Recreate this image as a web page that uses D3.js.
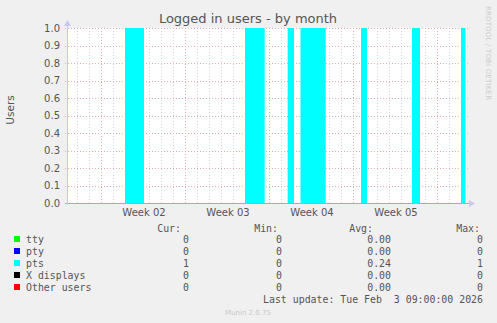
<!DOCTYPE html>
<html>
<head>
<meta charset="utf-8">
<script src="https://cdn.jsdelivr.net/npm/d3@7"></script>
<style>
  body { margin: 0; background: #f0f0f0; }
  svg { display: block; }
  text { font-family: "DejaVu Sans", sans-serif; }
  .mono { font-family: "DejaVu Sans Mono", monospace; font-size: 9.9px; fill: #555; }
</style>
</head>
<body>
<div id="chart"></div>
<script>
// time range shown on the graph
const timeStart = "2026-01-01 04:00";
const timeEnd = "2026-02-03 12:00";

// pts series, step values
const ptsTimes = ["2026-01-01 04:00", "2026-01-06 00:00", "2026-01-07 14:00", "2026-01-16 00:00",
	"2026-01-17 15:20", "2026-01-19 13:20", "2026-01-20 02:00", "2026-01-20 15:00",
	"2026-01-22 17:30", "2026-01-25 16:00", "2026-01-26 04:00", "2026-01-29 22:00",
	"2026-01-30 14:00", "2026-02-03 00:00", "2026-02-03 09:00"];
const ptsValues = [0, 1, 0, 1, 0, 1, 0, 1, 0, 1, 0, 1, 0, 1, 1];

const yTicks = [0, 0.1, 0.2, 0.3, 0.4, 0.5, 0.6, 0.7, 0.8, 0.9, 1.0];

// legend
const seriesNames = ["tty", "pty", "pts", "X displays", "Other users"];
const seriesColors = ["#00ff00", "#0000ff", "#00ffff", "#000000", "#ff0000"];
const curValues = ["0", "0", "1", "0", "0"];
const minValues = ["0", "0", "0", "0", "0"];
const avgValues = ["0.00", "0.00", "0.24", "0.00", "0.00"];
const maxValues = ["0", "0", "1", "0", "0"];

let width = 497, height = 323;
let margin = { top: 28, left: 67, width: 400, height: 175 };

let parse = d3.utcParse("%Y-%m-%d %H:%M");

let svg = d3.select("#chart").append("svg")
	.attr("width", width)
	.attr("height", height);

svg.append("rect")
	.attr("width", width).attr("height", height)
	.attr("fill", "#f0f0f0");

let x = d3.scaleUtc()
	.domain([parse(timeStart), parse(timeEnd)])
	.range([margin.left, margin.left + margin.width]);

let y = d3.scaleLinear()
	.domain([0, 1])
	.range([margin.top + margin.height, margin.top]);

// plot background
svg.append("rect")
	.attr("x", margin.left).attr("y", margin.top)
	.attr("width", margin.width).attr("height", margin.height)
	.attr("fill", "#ffffff");

// minor grid: days
let days = d3.utcDay.range(x.domain()[0], x.domain()[1]).filter(d => x(d) > margin.left + 1);
svg.append("g").selectAll("line")
	.data(days)
	.join("line")
	.attr("x1", d => Math.round(x(d)) + 0.5).attr("x2", d => Math.round(x(d)) + 0.5)
	.attr("y1", margin.top).attr("y2", margin.top + margin.height)
	.attr("stroke", "#d6d6d6")
	.attr("stroke-dasharray", "1,2");

// major grid: weeks (sunday)
let weeks = d3.utcSunday.range(x.domain()[0], x.domain()[1]);
svg.append("g").selectAll("line")
	.data(weeks)
	.join("line")
	.attr("x1", d => Math.round(x(d)) + 0.5).attr("x2", d => Math.round(x(d)) + 0.5)
	.attr("y1", margin.top).attr("y2", margin.top + margin.height + 2)
	.attr("stroke", "#e6b0b0")
	.attr("stroke-dasharray", "1,2");

// horizontal grid
svg.append("g").selectAll("line")
	.data(yTicks)
	.join("line")
	.attr("x1", margin.left - 2).attr("x2", margin.left + margin.width + 2)
	.attr("y1", d => Math.round(y(d)) + 0.5).attr("y2", d => Math.round(y(d)) + 0.5)
	.attr("stroke", "#e6b0b0")
	.attr("stroke-dasharray", "1,2");

// pts area
let ptsData = ptsTimes.map((t, i) => ({ time: parse(t), value: ptsValues[i] }));
let area = d3.area()
	.curve(d3.curveStepAfter)
	.x(d => x(d.time))
	.y0(y(0))
	.y1(d => y(d.value));

svg.append("path")
	.datum(ptsData)
	.attr("d", area)
	.attr("fill", "#00ffff");

// axes
svg.append("line")
	.attr("x1", margin.left - 2).attr("x2", margin.left + margin.width + 2)
	.attr("y1", y(0) + 0.5).attr("y2", y(0) + 0.5)
	.attr("stroke", "#d49a9a");
svg.append("line")
	.attr("x1", margin.left + 0.5).attr("x2", margin.left + 0.5)
	.attr("y1", y(0) + 2).attr("y2", margin.top - 4)
	.attr("stroke", "#c8c8f0");
svg.append("path")
	.attr("d", `M${margin.left - 3},${margin.top - 2} L${margin.left + 0.5},${margin.top - 8} L${margin.left + 4},${margin.top - 2} Z`)
	.attr("fill", "#c8c8f0");
svg.append("path")
	.attr("d", `M${margin.left + margin.width + 2},${y(0) - 3} L${margin.left + margin.width + 8},${y(0) + 0.5} L${margin.left + margin.width + 2},${y(0) + 4} Z`)
	.attr("fill", "#c8c8f0");

// y tick labels
svg.append("g").selectAll("text")
	.data(yTicks)
	.join("text")
	.attr("x", margin.left - 7)
	.attr("y", d => y(d) + 3.5)
	.attr("text-anchor", "end")
	.attr("font-size", "10px")
	.attr("fill", "#555")
	.text(d3.format(".1f"));

// week labels centred on the middle of each week
let weekLabel = d3.utcFormat("Week %V");
let labelTimes = weeks.map(d => new Date(d.getTime() + 3.5 * 864e5))
	.filter(d => x(d) > margin.left + 15 && x(d) < margin.left + margin.width - 15);
svg.append("g").selectAll("text")
	.data(labelTimes)
	.join("text")
	.attr("x", d => x(d) + 1)
	.attr("y", 216)
	.attr("text-anchor", "middle")
	.attr("font-size", "10px")
	.attr("fill", "#555")
	.text(weekLabel);

// title
svg.append("text")
	.attr("x", 248).attr("y", 23)
	.attr("text-anchor", "middle")
	.attr("font-size", "13px")
	.attr("fill", "#555")
	.text("Logged in users - by month");

// y axis title
svg.append("text")
	.attr("transform", "translate(14,110) rotate(-90)")
	.attr("text-anchor", "middle")
	.attr("font-size", "10.5px")
	.attr("fill", "#555")
	.text("Users");

// watermark
svg.append("text")
	.attr("transform", "translate(486,6) rotate(90)")
	.attr("font-size", "7px")
	.attr("textLength", 94)
	.attr("lengthAdjust", "spacing")
	.attr("fill", "#cccccc")
	.text("RRDTOOL / TOBI OETIKER");

// legend
let headers = [["Cur:", 181], ["Min:", 278], ["Avg:", 373], ["Max:", 480]];
svg.append("g").selectAll("text")
	.data(headers)
	.join("text")
	.attr("class", "mono")
	.attr("x", d => d[1]).attr("y", 232)
	.attr("text-anchor", "end")
	.text(d => d[0]);

let rows = svg.append("g").selectAll("g")
	.data(seriesNames)
	.join("g")
	.attr("transform", (d, i) => `translate(0,${243 + i * 12})`);

rows.append("rect")
	.attr("x", 14).attr("y", -7)
	.attr("width", 6).attr("height", 6)
	.attr("fill", (d, i) => seriesColors[i]);

rows.append("text")
	.attr("class", "mono")
	.attr("x", 26)
	.text(d => d);

let columns = [[curValues, 189], [minValues, 282], [avgValues, 391], [maxValues, 483]];
columns.forEach(c => {
	rows.append("text")
		.attr("class", "mono")
		.attr("x", c[1])
		.attr("text-anchor", "end")
		.text((d, i) => c[0][i]);
});

svg.append("text")
	.attr("class", "mono")
	.attr("x", 483).attr("y", 303)
	.attr("text-anchor", "end")
	.attr("xml:space", "preserve")
	.style("white-space", "pre")
	.text("Last update: Tue Feb  3 09:00:00 2026");

svg.append("text")
	.attr("x", 248).attr("y", 315)
	.attr("text-anchor", "middle")
	.attr("font-size", "7px")
	.attr("fill", "#c8c8c8")
	.text("Munin 2.0.75");
</script>
</body>
</html>
